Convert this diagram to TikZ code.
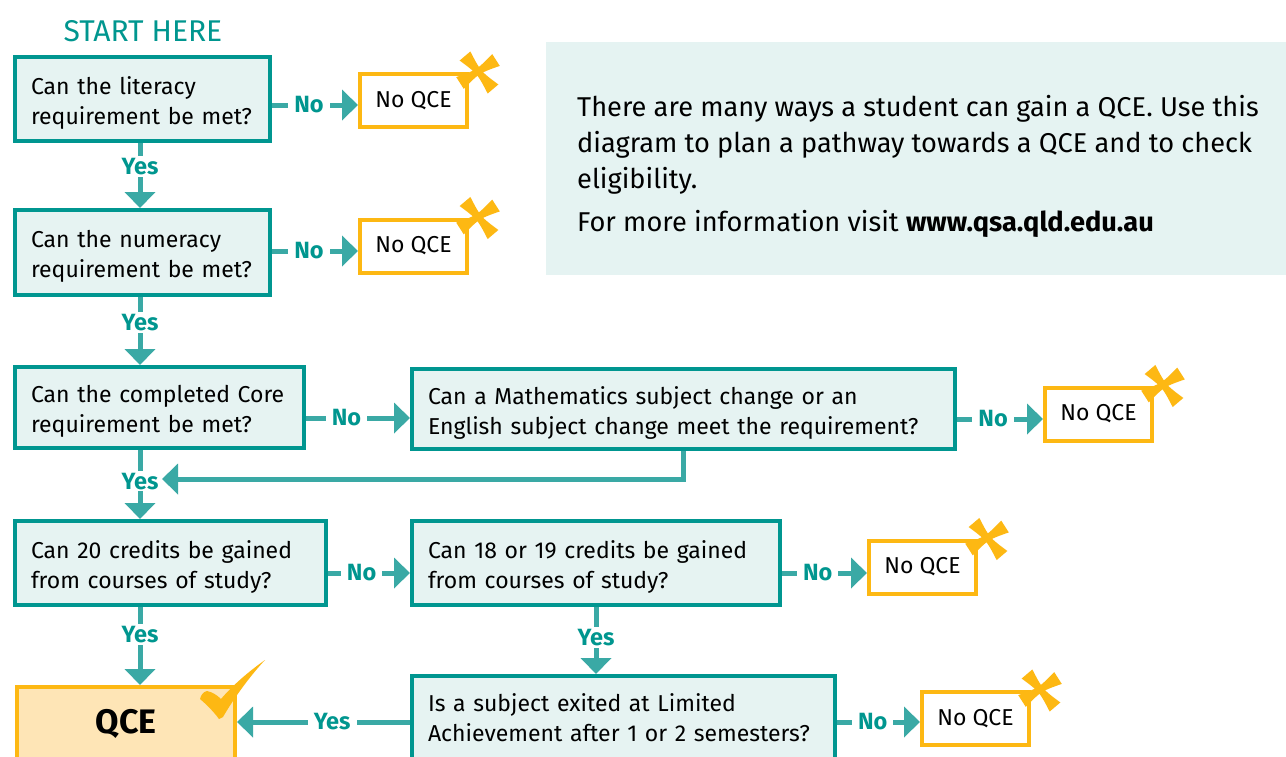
\documentclass[tikz,border=0pt]{standalone}
\usepackage{fontspec}
\setmainfont{Fira Sans}
\usetikzlibrary{arrows.meta,calc}
\definecolor{tealD}{HTML}{009690}
\definecolor{tealL}{HTML}{3AA9A5}
\definecolor{tealT}{HTML}{00968F}
\definecolor{boxfill}{HTML}{E6F3F2}
\definecolor{infofill}{HTML}{E5F3F2}
\definecolor{orng}{HTML}{FDB813}
\definecolor{qcefill}{HTML}{FEE5B6}
\tikzset{
  qbox/.style={draw=tealD, line width=4pt, fill=boxfill, align=left, inner xsep=16pt, inner ysep=0pt,
    font=\fontsize{23}{30}\selectfont, text=black, text height=17pt, text depth=27pt},
  nobox/.style={draw=orng, line width=4pt, fill=white, minimum width=107pt, minimum height=53pt,
    font=\fontsize{23}{28}\selectfont, inner sep=0pt},
  conn/.style={draw=tealL, line width=5pt, -{Triangle[length=16pt,width=30pt]}},
  lbl/.style={fill=white, text=tealT, font=\bfseries\fontsize{23.5}{28}\selectfont, inner xsep=6pt, inner ysep=2pt},
  xmark/.pic={
    \fill[orng] (-0.66,-18.53) .. controls (9.53,1.21) .. (27.34,14.47) -- (16.66,23.53) .. controls (6.47,3.79) .. (-11.34,-9.47) -- cycle;
    \fill[orng] (-7.23,18.9) .. controls (8.08,3.19) .. (28.77,-4.1) -- (21.23,-15.9) .. controls (5.92,-0.19) .. (-14.77,7.1) -- cycle;
  },
  checkmark/.pic={
    \fill[orng] (-37,14) .. controls (-31,19) and (-23,27) .. (-18,34) -- (-14,32)
      .. controls (-3,13) and (13,-9) .. (28,-25)
      .. controls (11,-13) and (-5,1) .. (-16,14)
      .. controls (-20,10) and (-25,7) .. (-30,6)
      .. controls (-34,7) and (-36,10) .. (-37,14) -- cycle;
  }
}
\begin{document}
\begin{tikzpicture}[x=1pt,y=-1pt]
\path[use as bounding box] (0,0) rectangle (1286,756);
\fill[white] (0,0) rectangle (1286,756);
\clip (0,0) rectangle (1286,756);

% info panel
\node[fill=infofill, minimum width=740pt, minimum height=233pt, anchor=north west, inner sep=0pt] (info) at (546,42) {};
\node[anchor=north west, inner sep=0pt, align=left, font=\fontsize{27.2}{36}\selectfont] (infotext) at (577,95)
  {There are many ways a student can gain a QCE. Use this\\diagram to plan a pathway towards a QCE and to check\\eligibility.\\[7pt]For more information visit \textbf{www.qsa.qld.edu.au}};

\node[text=tealT, font=\fontsize{30}{34}\selectfont, inner sep=0pt] (start) at (143,31) {START HERE};

% question boxes
\node[qbox, text width=223pt, minimum height=84pt] (B1) at (142.5,99) {Can the literacy\\requirement be met?};
\node[qbox, text width=223pt, minimum height=85pt] (B2) at (142.5,252.5) {Can the numeracy\\requirement be met?};
\node[qbox, text width=257pt, minimum height=81pt] (B3) at (159.5,407.5) {Can the completed Core\\requirement be met?};
\node[qbox, text width=511pt, minimum height=80pt] (B4) at (683.5,409) {Can a Mathematics subject change or an\\English subject change meet the requirement?};
\node[qbox, text width=279pt, minimum height=84pt] (B5) at (170.5,563) {Can 20 credits be gained\\from courses of study?};
\node[qbox, text width=336pt, minimum height=84pt] (B6) at (596,563) {Can 18 or 19 credits be gained\\from courses of study?};
\node[qbox, text width=391pt, minimum height=90pt, text depth=37pt] (B7) at (623.5,721) {Is a subject exited at Limited\\Achievement after 1 or 2 semesters?};
\node[draw=orng, line width=4pt, fill=qcefill, minimum width=218pt, minimum height=74pt, inner sep=0pt,
      font=\bfseries\fontsize{34}{38}\selectfont] (QCE) at (126,724) {QCE};

% no QCE boxes
\node[nobox] (N1) at (413.5,100.5) {No QCE};
\node[nobox] (N2) at (413.5,246) {No QCE};
\node[nobox] (N3) at (1098.5,414) {No QCE};
\node[nobox] (N4) at (922.5,567) {No QCE};
\node[nobox] (N5) at (975.5,718.5) {No QCE};

\pic at ([shift={(2,-2)}]N1.north east) {xmark};
\pic at ([shift={(2,-2)}]N2.north east) {xmark};
\pic at ([shift={(2,-2)}]N3.north east) {xmark};
\pic at ([shift={(2,-2)}]N4.north east) {xmark};
\pic at ([shift={(2,-2)}]N5.north east) {xmark};
\pic at (QCE.north east) {checkmark};

% connector anchors
\coordinate (r1) at ($(B1.east)+(0,6)$);
\coordinate (r2) at ($(B2.east)+(0,-1.5)$);
\coordinate (r3) at ($(B3.east)+(0,10.5)$);
\coordinate (r4) at ($(B4.east)+(0,10)$);
\coordinate (r5) at ($(B5.east)+(0,10)$);
\coordinate (r6) at ($(B6.east)+(0,10)$);
\coordinate (r7w) at ($(B7.west)+(0,1)$);
\coordinate (r7e) at ($(B7.east)+(0,1)$);
\coordinate (colx) at (140,0);
\coordinate (ret) at (162,479);

% horizontal connectors
\draw[conn] (r1) -- (r1 -| N1.west) node[lbl, pos=0.43] {No};
\draw[conn] (r2) -- (r2 -| N2.west) node[lbl, pos=0.43] {No};
\draw[conn] (r3) -- (r3 -| B4.west) node[lbl, pos=0.39] {No};
\draw[conn] (r4) -- (r4 -| N3.west) node[lbl, pos=0.42] {No};
\draw[conn] (r5) -- (r5 -| B6.west) node[lbl, pos=0.41] {No};
\draw[conn] (r6) -- (r6 -| N4.west) node[lbl, pos=0.42] {No};
\draw[conn] (r7w) -- (r7w -| QCE.east) node[lbl, pos=0.45] {Yes};
\draw[conn] (r7e) -- (r7e -| N5.west) node[lbl, pos=0.43] {No};

% vertical connectors
\draw[conn] (B1.south -| colx) -- (B2.north -| colx) node[lbl, pos=0.36] {Yes};
\draw[conn] (B2.south -| colx) -- (B3.north -| colx) node[lbl, pos=0.375] {Yes};
\draw[conn] (B3.south -| colx) -- (B5.north -| colx) node[lbl, pos=0.45] {Yes};
\draw[conn] (B5.south -| colx) -- (QCE.north -| colx) node[lbl, pos=0.35] {Yes};
\draw[conn] (B6.south) -- (B6.south |- B7.north) node[lbl, pos=0.46] {Yes};

% return connector
\draw[conn] (B4.south) |- (ret);
\end{tikzpicture}
\end{document}
